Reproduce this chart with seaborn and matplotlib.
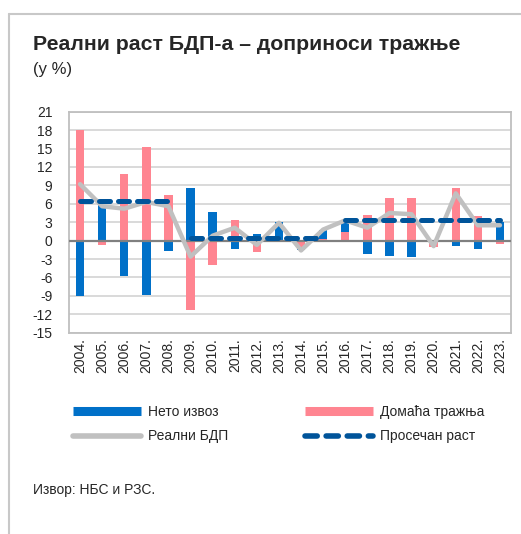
import numpy as np
import pandas as pd
import matplotlib
matplotlib.use("Agg")
import matplotlib.pyplot as plt
from matplotlib.lines import Line2D
import seaborn as sns

years = ["2004.", "2005.", "2006.", "2007.", "2008.", "2009.", "2010.", "2011.", "2012.", "2013.",
         "2014.", "2015.", "2016.", "2017.", "2018.", "2019.", "2020.", "2021.", "2022.", "2023."]
net_exports = [-9.1, 5.8, -5.7, -8.8, -1.7, 8.6, 4.7, -1.3, 1.1, 3.1,
               -0.5, 1.6, 2.0, -2.1, -2.5, -2.6, 0.1, -0.8, -1.4, 3.1]
domestic = [18.1, -0.7, 10.9, 15.3, 7.4, -11.3, -4.0, 3.4, -1.9, -0.3,
            -1.1, 0.2, 1.4, 4.2, 7.0, 6.9, -1.0, 8.6, 4.0, -0.6]
real_gdp = [9.2, 5.6, 5.2, 6.3, 5.6, -2.6, 0.8, 2.1, -0.7, 2.9,
            -1.6, 1.8, 3.3, 2.1, 4.5, 4.3, -0.9, 7.7, 2.5, 2.5]
avg_periods = [(0, 4), (5, 11), (12, 19)]
avg_values = [6.4, 0.5, 3.4]
yticks = list(range(-15, 22, 3))

title = "Реални раст БДП-а – доприноси тражње"
subtitle = "(у %)"
source = "Извор: НБС и РЗС."
labels = ["Нето извоз", "Домаћа тражња", "Реални БДП", "Просечан раст"]

BLUE = "#0070C8"
PINK = "#FF8591"
GRAY = "#C0C0C0"
DBLUE = "#00549A"

sns.set_theme(style="white")
plt.rcParams["font.family"] = ["Liberation Sans", "DejaVu Sans"]

W, H = 521, 534
fig = plt.figure(figsize=(W / 100, H / 100), dpi=100)
ax = fig.add_axes([69 / W, 1 - 332.7 / H, (511 - 69) / W, (332.7 - 111.7) / H])

x = np.arange(len(years))
df = pd.DataFrame({"year": years, "net": net_exports, "dom": domestic, "gdp": real_gdp})
net = np.array(net_exports)
dom = np.array(domestic)
blue_bottom = np.where(np.sign(net) == np.sign(dom), dom, 0.0)

# grid lines
for t in yticks:
    ax.axhline(t, color="#D0D0D0", lw=1.1, zorder=0)

sns.barplot(data=df, x="year", y="dom", color=PINK, saturation=1, width=0.38,
            ax=ax, zorder=2, linewidth=0)
sns.barplot(data=df, x="year", y="net", color=BLUE, saturation=1, width=0.38,
            ax=ax, zorder=2, linewidth=0, bottom=blue_bottom)

ax.axhline(0, color="#808080", lw=1.6, zorder=3)

sns.lineplot(x=x, y=real_gdp, color=GRAY, lw=3.2, ax=ax, zorder=4,
             solid_capstyle="round", solid_joinstyle="round")
for (a, b), v in zip(avg_periods, avg_values):
    xs = x[a:b + 1]
    ax.plot(xs, [v] * len(xs), color=DBLUE, lw=3.6, dashes=(2.2, 1.6),
            dash_capstyle="round", zorder=5)

ax.set_xlim(-0.5, len(years) - 0.5)
ax.set_ylim(-15, 21)
ax.set_yticks(yticks)
ax.set_yticklabels([str(t) for t in yticks], fontsize=10)
ax.set_xticks(x)
ax.set_xticklabels(years, rotation=90, fontsize=10)
ax.tick_params(axis="both", length=0, pad=4)
ax.tick_params(axis="y", pad=12)
ax.set_xlabel("")
ax.set_ylabel("")
for s in ax.spines.values():
    s.set_visible(True)
    s.set_color("#BFBFBF")
    s.set_linewidth(1.3)

# panel border (top and left)
fig.add_artist(Line2D([9 / W, 1.0], [1 - 14 / H, 1 - 14 / H], color="#C8C8C8", lw=1.5,
                      transform=fig.transFigure))
fig.add_artist(Line2D([9 / W, 9 / W], [0, 1 - 14 / H], color="#C8C8C8", lw=1.5,
                      transform=fig.transFigure))

fig.text(33 / W, 1 - 50 / H, title, fontsize=15.3, fontweight="bold", ha="left", va="baseline")
fig.text(33 / W, 1 - 74 / H, subtitle, fontsize=12, ha="left", va="baseline")
fig.text(33 / W, 1 - 494 / H, source, fontsize=10, ha="left", va="baseline")

handles = [
    Line2D([], [], color=BLUE, lw=6.5, solid_capstyle="butt"),
    Line2D([], [], color=GRAY, lw=4, solid_capstyle="round"),
    Line2D([], [], color=PINK, lw=6.5, solid_capstyle="butt"),
    Line2D([], [], color=DBLUE, lw=4, dashes=(2.2, 1.6), dash_capstyle="round"),
]
leg_labels = [labels[0], labels[2], labels[1], labels[3]]
fig.legend(handles, leg_labels, loc="upper left", bbox_to_anchor=(73 / W, 1 - 405 / H),
           ncol=2, frameon=False, fontsize=10, handlelength=4.9, handletextpad=0.5,
           columnspacing=5.5, labelspacing=0.75, borderpad=0, borderaxespad=0)

fig.savefig("out.png", dpi=100)
